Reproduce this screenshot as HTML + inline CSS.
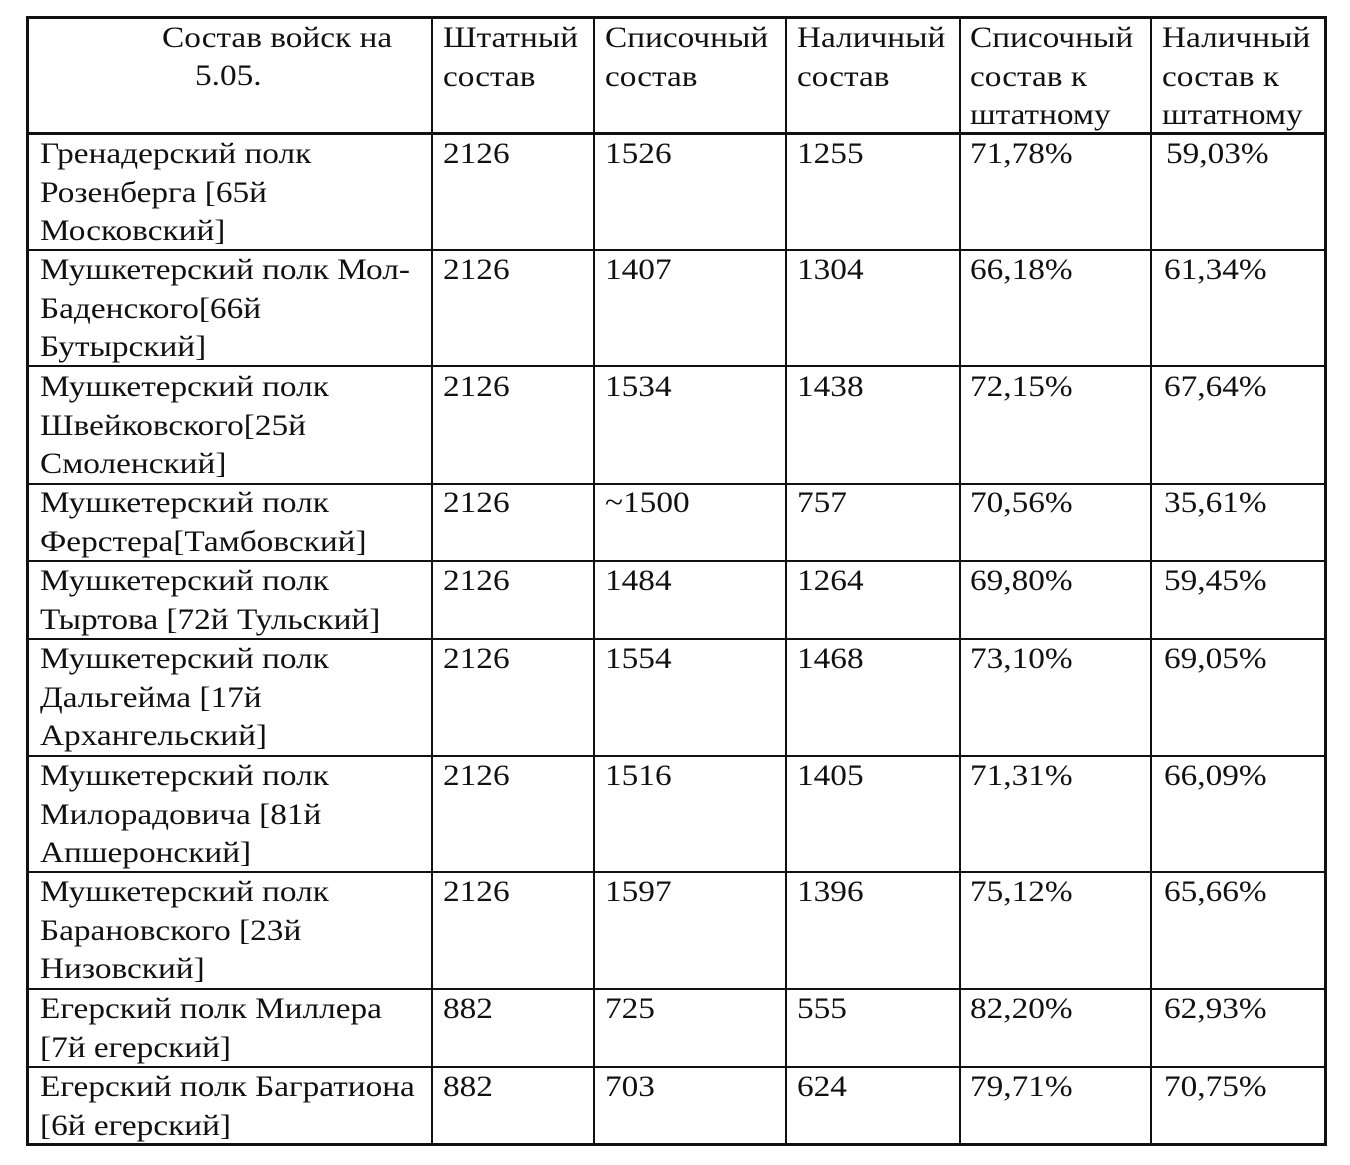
<!DOCTYPE html>
<html><head><meta charset="utf-8"><style>
body{margin:0;background:#fff;width:1350px;height:1165px;position:relative;overflow:hidden;font-family:"Liberation Serif","DejaVu Serif",serif;font-size:30px;line-height:38.5px;color:#111}
.h{position:absolute;height:2px;background:#111;left:26px;width:1301px}
.v{position:absolute;width:2px;background:#111;top:16px;height:1130px}
.t{position:absolute;white-space:nowrap;transform:scaleX(1.11);transform-origin:0 0}
</style></head><body>
<div class="h" style="top:16px;height:3px"></div>
<div class="h" style="top:132px;height:3px"></div>
<div class="h" style="top:249px"></div>
<div class="h" style="top:365px"></div>
<div class="h" style="top:483px"></div>
<div class="h" style="top:560px"></div>
<div class="h" style="top:638px"></div>
<div class="h" style="top:755px"></div>
<div class="h" style="top:871px"></div>
<div class="h" style="top:988px"></div>
<div class="h" style="top:1066px"></div>
<div class="h" style="top:1143px;height:3px"></div>
<div class="v" style="left:26px;width:3px"></div>
<div class="v" style="left:431px"></div>
<div class="v" style="left:593px"></div>
<div class="v" style="left:785px"></div>
<div class="v" style="left:959px"></div>
<div class="v" style="left:1150px"></div>
<div class="v" style="left:1324px;width:3px"></div>

<div class="t" style="left:162px;top:19px">Состав войск на</div>
<div class="t" style="left:195px;top:57px">5.05.</div>
<div class="t" style="left:443px;top:19px">Штатный<br>состав</div>
<div class="t" style="left:605px;top:19px">Списочный<br>состав</div>
<div class="t" style="left:797px;top:19px">Наличный<br>состав</div>
<div class="t" style="left:970px;top:19px">Списочный<br>состав к<br>штатному</div>
<div class="t" style="left:1162px;top:19px">Наличный<br>состав к<br>штатному</div>

<div class="t" style="left:40px;top:135px">Гренадерский полк<br>Розенберга [65й<br>Московский]</div>
<div class="t" style="left:443px;top:135px">2126</div><div class="t" style="left:605px;top:135px">1526</div><div class="t" style="left:797px;top:135px">1255</div><div class="t" style="left:970px;top:135px">71,78%</div><div class="t" style="left:1166px;top:135px">59,03%</div>

<div class="t" style="left:40px;top:251px">Мушкетерский полк Мол-<br>Баденского[66й<br>Бутырский]</div>
<div class="t" style="left:443px;top:251px">2126</div><div class="t" style="left:605px;top:251px">1407</div><div class="t" style="left:797px;top:251px">1304</div><div class="t" style="left:970px;top:251px">66,18%</div><div class="t" style="left:1164px;top:251px">61,34%</div>

<div class="t" style="left:40px;top:368px">Мушкетерский полк<br>Швейковского[25й<br>Смоленский]</div>
<div class="t" style="left:443px;top:368px">2126</div><div class="t" style="left:605px;top:368px">1534</div><div class="t" style="left:797px;top:368px">1438</div><div class="t" style="left:970px;top:368px">72,15%</div><div class="t" style="left:1164px;top:368px">67,64%</div>

<div class="t" style="left:40px;top:484px">Мушкетерский полк<br>Ферстера[Тамбовский]</div>
<div class="t" style="left:443px;top:484px">2126</div><div class="t" style="left:605px;top:484px">~1500</div><div class="t" style="left:797px;top:484px">757</div><div class="t" style="left:970px;top:484px">70,56%</div><div class="t" style="left:1164px;top:484px">35,61%</div>

<div class="t" style="left:40px;top:562px">Мушкетерский полк<br>Тыртова [72й Тульский]</div>
<div class="t" style="left:443px;top:562px">2126</div><div class="t" style="left:605px;top:562px">1484</div><div class="t" style="left:797px;top:562px">1264</div><div class="t" style="left:970px;top:562px">69,80%</div><div class="t" style="left:1164px;top:562px">59,45%</div>

<div class="t" style="left:40px;top:640px">Мушкетерский полк<br>Дальгейма [17й<br>Архангельский]</div>
<div class="t" style="left:443px;top:640px">2126</div><div class="t" style="left:605px;top:640px">1554</div><div class="t" style="left:797px;top:640px">1468</div><div class="t" style="left:970px;top:640px">73,10%</div><div class="t" style="left:1164px;top:640px">69,05%</div>

<div class="t" style="left:40px;top:757px">Мушкетерский полк<br>Милорадовича [81й<br>Апшеронский]</div>
<div class="t" style="left:443px;top:757px">2126</div><div class="t" style="left:605px;top:757px">1516</div><div class="t" style="left:797px;top:757px">1405</div><div class="t" style="left:970px;top:757px">71,31%</div><div class="t" style="left:1164px;top:757px">66,09%</div>

<div class="t" style="left:40px;top:873px">Мушкетерский полк<br>Барановского [23й<br>Низовский]</div>
<div class="t" style="left:443px;top:873px">2126</div><div class="t" style="left:605px;top:873px">1597</div><div class="t" style="left:797px;top:873px">1396</div><div class="t" style="left:970px;top:873px">75,12%</div><div class="t" style="left:1164px;top:873px">65,66%</div>

<div class="t" style="left:40px;top:990px">Егерский полк Миллера<br>[7й егерский]</div>
<div class="t" style="left:443px;top:990px">882</div><div class="t" style="left:605px;top:990px">725</div><div class="t" style="left:797px;top:990px">555</div><div class="t" style="left:970px;top:990px">82,20%</div><div class="t" style="left:1164px;top:990px">62,93%</div>

<div class="t" style="left:40px;top:1068px">Егерский полк Багратиона<br>[6й егерский]</div>
<div class="t" style="left:443px;top:1068px">882</div><div class="t" style="left:605px;top:1068px">703</div><div class="t" style="left:797px;top:1068px">624</div><div class="t" style="left:970px;top:1068px">79,71%</div><div class="t" style="left:1164px;top:1068px">70,75%</div>
</body></html>
